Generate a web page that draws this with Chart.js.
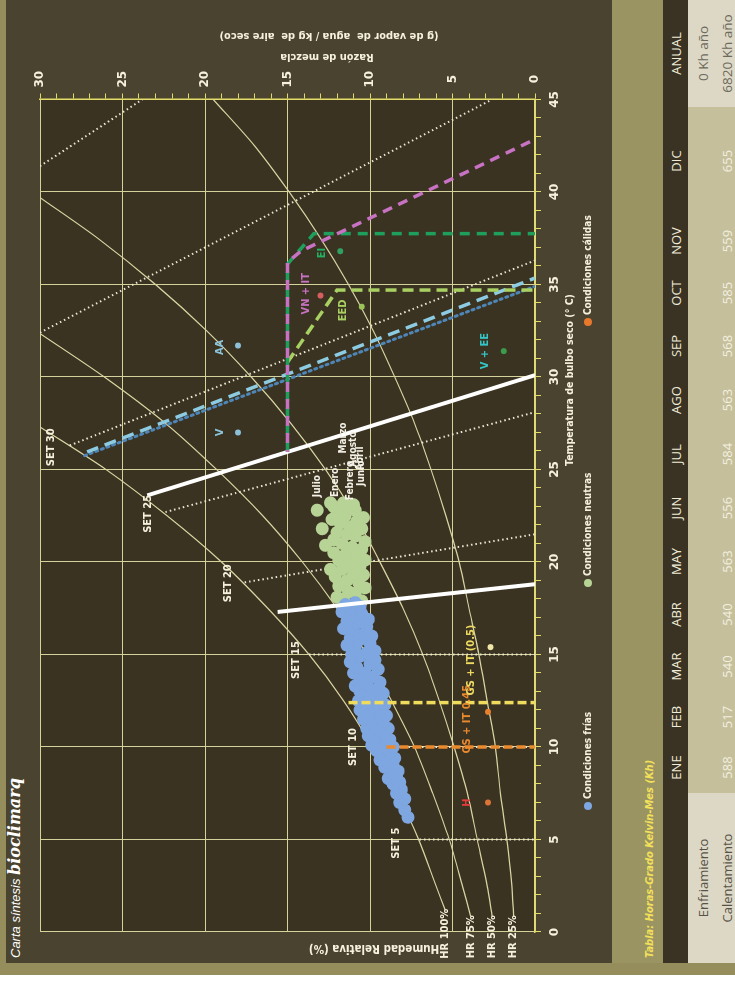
<!DOCTYPE html>
<html>
<head>
<meta charset="utf-8">
<script src="https://cdn.jsdelivr.net/npm/chart.js@4.4.1/dist/chart.umd.min.js"></script>
<style>
html, body { margin: 0; padding: 0; width: 735px; height: 989px; overflow: hidden; background: #fff; }
#sheet { position: absolute; left: 0; top: 989px; width: 989px; height: 735px;
  transform-origin: 0 0; transform: rotate(-90deg); background: #4a4330; overflow: hidden; }
#sheet div { position: absolute; }
.white { left: 0; top: 0; width: 14px; height: 735px; background: #fff; }
.frameL { left: 14px; top: 0; width: 12px; height: 735px; background: #958e5c; }
.frameT { left: 26px; top: 0; width: 963px; height: 6px; background: #958e5c; }
#title { left: 31px; top: 5px; height: 18px; line-height: 18px; color: #fff; white-space: nowrap; }
#title .a { font: italic 13px "Liberation Sans", sans-serif; }
#title .b { font: italic bold 16px "DejaVu Serif", serif; }
#chartBox { left: 0; top: 0; width: 989px; height: 612px; }
.band { left: 26px; top: 612px; width: 963px; height: 51px; background: #9a9362; }
#tabTitle { left: 31px; top: 643px; line-height: 18px; color: #f3e05a; white-space: nowrap;
  font: italic bold 11px "DejaVu Sans Condensed", sans-serif; }
#tabla { left: 26px; top: 663px; width: 963px; }
table { border-collapse: collapse; table-layout: fixed; width: 963px;
  font-family: "Open Sans", sans-serif; font-size: 13px; }
th { height: 25px; padding: 0; background: #3a3324; color: #f0ecd8; font-weight: normal; }
td { height: 18px; padding: 6px 0 0 0; line-height: 18px; text-align: center; background: #c5bf9b; color: #f3f0e0; }
td.lab { background: #dcd8c5; color: #575246; }
td.anual { background: #dcd8c5; color: #6d695b; font-size: 13.5px; }
</style>
</head>
<body>
<div id="sheet">
  <div class="white"></div>
  <div class="frameL"></div>
  <div class="frameT"></div>
  <div id="title"><span class="a">Carta síntesis </span><span class="b">bioclimarq</span></div>
  <div id="chartBox"><canvas id="carta" width="989" height="612"></canvas></div>
  <div class="band"></div>
  <div id="tabTitle">Tabla: Horas-Grado Kelvin-Mes (Kh)</div>
  <div id="tabla"></div>
</div>
<script>
// ejes
const tempMin = 0, tempMax = 45;
const ratioMin = 0, ratioMax = 30;
const labelStep = 5;

// curvas de humedad relativa: temperatura (°C) y razón de mezcla (g/kg)
const hrNames = ['HR 100%', 'HR 75%', 'HR 50%', 'HR 25%'];
const hr100T = [1.2, 2.5, 5, 7.5, 10, 12.5, 15, 17.5, 20, 22.5, 25, 27.3];
const hr100W = [5.45, 6.0, 7.05, 8.35, 9.85, 11.6, 13.7, 16.2, 19.0, 22.3, 26.0, 30.0];
const hr75T = [0.85, 2.5, 5, 7.5, 10, 12.5, 15, 17.5, 20, 22.5, 25, 27.5, 30, 32.35];
const hr75W = [3.9, 4.4, 5.2, 6.2, 7.3, 8.7, 10.2, 12.0, 14.1, 16.5, 19.3, 22.4, 26.1, 30.0];
const hr50T = [0.85, 2.5, 5, 7.5, 10, 12.5, 15, 17.5, 20, 22.5, 25, 27.5, 30, 32.5, 35, 37.5, 39.7];
const hr50W = [2.6, 2.9, 3.5, 4.1, 4.9, 5.8, 6.8, 8.0, 9.4, 10.9, 12.7, 14.8, 17.2, 19.9, 23.0, 26.5, 30.0];
const hr25T = [0.85, 2.5, 5, 7.5, 10, 12.5, 15, 17.5, 20, 22.5, 25, 27.5, 30, 32.5, 35, 37.5, 40, 42.5, 45];
const hr25W = [1.3, 1.4, 1.7, 2.1, 2.4, 2.9, 3.4, 4.0, 4.6, 5.4, 6.3, 7.3, 8.5, 9.8, 11.3, 13.0, 14.9, 17.0, 19.5];

// lineas SET (extremos)
const setNames = ['SET 5', 'SET 10', 'SET 15', 'SET 20', 'SET 25', 'SET 30'];
const setLineT = [[5, 5], [10, 10], [15, 15], [18.9, 21.5], [22.7, 28.1], [26.3, 36.3], [32.4, 45], [41.4, 45]];
const setLineW = [[7.0, 0], [9.85, 0], [13.7, 0], [17.6, 0], [22.4, 0], [28.2, 0], [30, 2.6], [30, 23.8]];
const setLabelT = [4.8, 10.0, 14.7, 18.85, 22.6, 26.2];
const setLabelW = [8.4, 11.0, 14.5, 18.6, 23.45, 29.3];

// limites de la zona de confort
const comfortLowT = [17.3, 18.8], comfortLowW = [15.6, 0];
const comfortHighT = [23.6, 30.1], comfortHighW = [23.5, 0];

// estrategias
const gsT = [10, 10], gsW = [9.0, 0];
const gs05T = [12.4, 12.4], gs05W = [11.3, 0];
const vnT = [25.95, 36.2, 36.8, 42.85], vnW = [15, 15, 14.2, 0];
const eiT = [25.95, 36.1, 37.75, 37.75], eiW = [15, 15, 13.4, 0];
const eedT = [30.8, 34.7, 34.7], eedW = [15, 12.0, 0];
const vDashT = [25.95, 35.35], vDashW = [27.15, 0];
const vDotT = [25.75, 34.9], vDotW = [27.3, 0];

const stratNames = ['H', 'GS + IT 0.45', 'GS + IT (0.5)', 'VN + IT', 'EI', 'EED', 'V', 'AA', 'V + EE'];
const stratLabelT = [7.0, 11.5, 14.7, 34.5, 36.7, 33.6, 27.0, 31.6, 31.4];
const stratLabelW = [4.1, 4.1, 3.9, 13.9, 12.9, 11.6, 19.1, 19.1, 3.0];
const stratPointT = [7.0, 11.9, 15.4, 34.4, 36.8, 33.8, 27.0, 31.7, 31.4];
const stratPointW = [2.85, 2.85, 2.7, 13.0, 11.8, 10.5, 18.0, 18.0, 1.9];
const stratLabelColor = ['#e23c3c', '#ea8a2e', '#eedb62', '#c872c4', '#22b062', '#a9d062', '#8cc4dc', '#8cc4dc', '#34c6c6'];
const stratPointColor = ['#dc7436', '#e8802e', '#efe6a8', '#d65e5e', '#2fa060', '#9cc25a', '#8cc0d8', '#8cc0d8', '#3c9a4c'];

// condiciones horarias
const coldT = [6.2,6.6,7.0,7.2,7.5,7.7,8.0,8.1,8.3,8.4,8.6,8.7,8.9,9.0,9.2,9.3,9.4,9.6,9.7,9.8,
  10.0,10.0,10.1,10.2,10.4,10.5,10.6,10.7,10.9,11.0,11.0,11.2,11.3,11.5,11.6,11.7,11.8,12.0,12.0,12.2,
  12.3,12.4,12.5,12.6,12.8,12.9,13.0,13.1,13.3,13.4,13.5,13.7,13.8,14.0,14.0,14.2,14.3,14.5,14.6,14.7,
  14.9,15.0,15.1,15.2,15.4,15.5,15.6,15.8,15.9,16.0,16.1,16.3,16.4,16.5,16.7,16.8,16.9,17.1,17.2,17.3,
  17.5,17.6,17.7,17.8];
const coldW = [7.7,7.9,8.2,7.9,8.4,8.1,8.6,8.2,8.9,8.4,8.7,8.3,9.1,8.6,8.9,9.4,8.5,9.2,8.8,9.6,
  9.0,8.6,9.9,9.3,8.8,9.6,10.1,9.1,9.5,8.9,10.2,9.8,9.2,10.4,9.6,9.0,10.0,9.4,10.6,9.8,
  9.1,10.3,10.7,9.5,10.0,9.2,10.6,9.7,10.9,10.2,9.4,10.6,9.8,11.0,10.3,9.5,10.8,10.0,11.2,9.7,
  10.6,11.1,10.2,9.7,10.9,11.4,10.0,10.6,11.2,9.9,10.4,11.0,11.6,10.2,10.8,11.4,10.1,11.0,10.5,11.7,
  11.2,10.6,11.5,10.9];
const neutralT = [17.9,18.0,18.1,18.3,18.4,18.6,18.7,18.9,19.0,19.2,19.3,19.4,19.6,19.8,19.9,20.1,20.1,20.3,20.4,20.5,
  20.7,20.8,21.0,21.1,21.2,21.4,21.5,21.6,21.8,21.9,22.1,22.2,22.3,22.4,22.5,22.6,22.8,22.9,23.0,23.1,
  23.2,23.2,19.6,20.9,21.8,22.8];
const neutralW = [10.5,11.6,12.0,10.9,11.3,10.3,11.9,10.7,11.4,12.1,10.4,11.0,11.7,10.6,11.2,10.3,11.9,10.8,11.5,12.2,
  10.5,11.1,11.7,10.3,12.2,10.9,11.4,12.0,10.5,11.2,11.8,10.8,12.3,10.4,11.5,12.0,10.9,11.6,12.2,11.0,
  11.6,12.4,12.4,12.7,12.9,13.2];

const monthLabels = ['Julio', 'Enero', 'Marzo', 'Febrero', 'Agosto', 'Junio', 'Abril'];
const monthLabelT = [24.1, 24.3, 26.7, 24.4, 26.1, 24.8, 25.6];
const monthLabelW = [13.2, 12.1, 11.6, 11.2, 11.0, 10.5, 10.6];

const legendNames = ['Condiciones frías', 'Condiciones neutras', 'Condiciones cálidas'];

// tabla de horas-grado
const months = ['ENE', 'FEB', 'MAR', 'ABR', 'MAY', 'JUN', 'JUL', 'AGO', 'SEP', 'OCT', 'NOV', 'DIC'];
const rowNames = ['Enfriamiento', 'Calentamiento'];
const coolingKh = ['', '', '', '', '', '', '', '', '', '', '', ''];
const heatingKh = [588, 517, 540, 540, 563, 556, 584, 563, 568, 585, 559, 655];
const annualKh = ['0 Kh año', '6820 Kh año'];

// ---- estilos ----
const PLOT_BG = '#3b3322';
const GRID = '#d6d29c';
const AXIS = '#e4dc68';
const INK = '#f5f1dc';
const COND = "'DejaVu Sans Condensed', 'Liberation Sans Narrow', sans-serif";
const COLD = '#7ea6e0', NEUTRAL = '#b7d395', WARM = '#e8782c';

const pts = (ts, ws) => ts.map((t, i) => ({ x: t, y: ws[i] }));
const line = (label, ts, ws, color, width, dash, order, extra) => Object.assign({
  label, data: pts(ts, ws), showLine: true, pointRadius: 0, borderColor: color,
  borderWidth: width, borderDash: dash, fill: false, order
}, extra || {});

const datasets = [];
[[hr100T, hr100W], [hr75T, hr75W], [hr50T, hr50W], [hr25T, hr25W]].forEach((c, i) =>
  datasets.push(line(hrNames[i], c[0], c[1], '#d9d5a2', 1.2, [], 30, { tension: 0.3 })));
setLineT.forEach((t, i) =>
  datasets.push(line('set' + i, t, setLineW[i], '#ebe7d4', 2, [1.5, 3], 25)));
datasets.push({ label: legendNames[0], data: pts(coldT, coldW), pointRadius: 6.5, pointBackgroundColor: COLD, pointBorderWidth: 0, order: 20 });
datasets.push({ label: legendNames[1], data: pts(neutralT, neutralW), pointRadius: 6.5, pointBackgroundColor: NEUTRAL, pointBorderWidth: 0, order: 20 });
datasets.push(line('confort1', comfortLowT, comfortLowW, '#ffffff', 4, [], 10));
datasets.push(line('confort2', comfortHighT, comfortHighW, '#ffffff', 4, [], 10));
datasets.push(line('V dot', vDotT, vDotW, '#4f86b8', 3, [2, 4], 9, { borderCapStyle: 'round' }));
datasets.push(line('V', vDashT, vDashW, '#8ccbe2', 3.5, [12, 7], 8));
datasets.push(line('EED', eedT, eedW, '#a9d062', 3.5, [11, 6], 7));
datasets.push(line('EI', eiT, eiW, '#1f9f5c', 3.5, [10, 7], 6));
datasets.push(line('VN + IT', vnT, vnW, '#c872c4', 3.5, [10, 7], 5, { borderDashOffset: 8 }));
datasets.push(line('GS', gsT, gsW, '#ea8a2e', 3.5, [9, 4], 4));
datasets.push(line('GS 0.5', gs05T, gs05W, '#f0dc5c', 3.5, [9, 4], 4));
datasets.push({ label: 'puntos', data: pts(stratPointT, stratPointW), pointRadius: 3,
  pointBackgroundColor: stratPointColor, pointBorderWidth: 0, order: 1 });

function text(ctx, s, x, y, color, font, align, rot) {
  ctx.save();
  ctx.translate(x, y);
  if (rot) ctx.rotate(rot);
  ctx.fillStyle = color;
  ctx.font = font;
  ctx.textAlign = align || 'center';
  ctx.textBaseline = 'middle';
  ctx.fillText(s, 0, 0);
  ctx.restore();
}

const decor = {
  id: 'decor',
  beforeDraw(chart) {
    const { ctx, chartArea: a } = chart;
    ctx.save();
    ctx.fillStyle = PLOT_BG;
    ctx.fillRect(a.left, a.top, a.right - a.left, a.bottom - a.top);
    ctx.restore();
  },
  afterDraw(chart) {
    const { ctx } = chart;
    const X = v => chart.scales.x.getPixelForValue(v);
    const Y = v => chart.scales.y.getPixelForValue(v);
    const lab = 'bold 11px ' + COND;

    // etiquetas de humedad relativa
    [[hr100T, hr100W], [hr75T, hr75W], [hr50T, hr50W], [hr25T, hr25W]].forEach((c, i) =>
      text(ctx, hrNames[i], X(c[0][0]) + 1, Y(c[1][0]), INK, lab, 'right'));
    setNames.forEach((s, i) => text(ctx, s, X(setLabelT[i]), Y(setLabelW[i]), INK, lab));
    stratNames.forEach((s, i) => text(ctx, s, X(stratLabelT[i]), Y(stratLabelW[i]), stratLabelColor[i], lab));
    monthLabels.forEach((s, i) => text(ctx, s, X(monthLabelT[i]), Y(monthLabelW[i]), '#f4f1e6', 'bold 10px ' + COND));

    // titulos de ejes
    text(ctx, 'Temperatura de bulbo seco (° C)', 609, 570, INK, 'bold 10.5px ' + COND);
    text(ctx, 'Razón de mezcla', 932, 327, INK, 'bold 11px ' + COND, 'center', -Math.PI / 2);
    text(ctx, '(g de vapor de  agua / kg de  aire seco)', 953, 329, INK, 'bold 11px ' + COND, 'center', -Math.PI / 2);
    text(ctx, 'Humedad Relativa (%)', 41, 374, INK, 'bold 11.5px ' + COND, 'center', -Math.PI / 2);

    // leyenda
    const legX = [183, 406, 667], legC = [COLD, NEUTRAL, WARM];
    legendNames.forEach((s, i) => {
      ctx.save();
      ctx.fillStyle = legC[i];
      ctx.beginPath();
      ctx.arc(legX[i], 588, 4, 0, Math.PI * 2);
      ctx.fill();
      ctx.restore();
      text(ctx, s, legX[i] + 7, 588, INK, 'bold 10px ' + COND, 'left');
    });
  }
};

const tickFont = { family: "'DejaVu Sans', sans-serif", size: 12, weight: 'bold' };
const gridColor = c => (c.tick && c.tick.value % labelStep === 0) ? GRID : 'rgba(0,0,0,0)';

new Chart(document.getElementById('carta'), {
  type: 'scatter',
  data: { datasets },
  options: {
    responsive: false,
    animation: false,
    devicePixelRatio: 1,
    layout: { padding: { left: 57, top: 40, right: 59.5, bottom: 47 } },
    plugins: { legend: { display: false }, tooltip: { enabled: false } },
    scales: {
      x: {
        type: 'linear', min: tempMin, max: tempMax,
        afterFit: s => { s.height = 30; },
        ticks: { stepSize: 1, autoSkip: false, maxRotation: 0, padding: 7, color: INK, font: tickFont,
          callback: v => v % labelStep === 0 ? v : '' },
        grid: { color: gridColor, tickColor: AXIS, tickLength: 6, lineWidth: 1 },
        border: { color: AXIS, width: 1.5 }
      },
      y: {
        type: 'linear', position: 'right', min: ratioMin, max: ratioMax,
        afterFit: s => { s.width = 40; },
        ticks: { stepSize: 1, autoSkip: false, padding: 6, crossAlign: 'center', color: INK, font: tickFont,
          callback: v => v % labelStep === 0 ? v : '' },
        grid: { color: gridColor, tickColor: AXIS, tickLength: 6, lineWidth: 1 },
        border: { color: AXIS, width: 1.5 }
      }
    }
  },
  plugins: [decor]
});

// tabla
const colWidths = [170, 51, 50, 51, 53, 53, 54, 54, 54, 54, 52, 52, 108, 107];
let html = '<table><colgroup>' + colWidths.map(w => '<col style="width:' + w + 'px">').join('') + '</colgroup>';
html += '<tr><th></th>' + months.map(m => '<th>' + m + '</th>').join('') + '<th>ANUAL</th></tr>';
[coolingKh, heatingKh].forEach((row, r) => {
  html += '<tr><td class="lab">' + rowNames[r] + '</td>' + row.map(v => '<td>' + v + '</td>').join('') +
    '<td class="anual">' + annualKh[r] + '</td></tr>';
});
html += '</table>';
document.getElementById('tabla').innerHTML = html;
</script>
</body>
</html>
